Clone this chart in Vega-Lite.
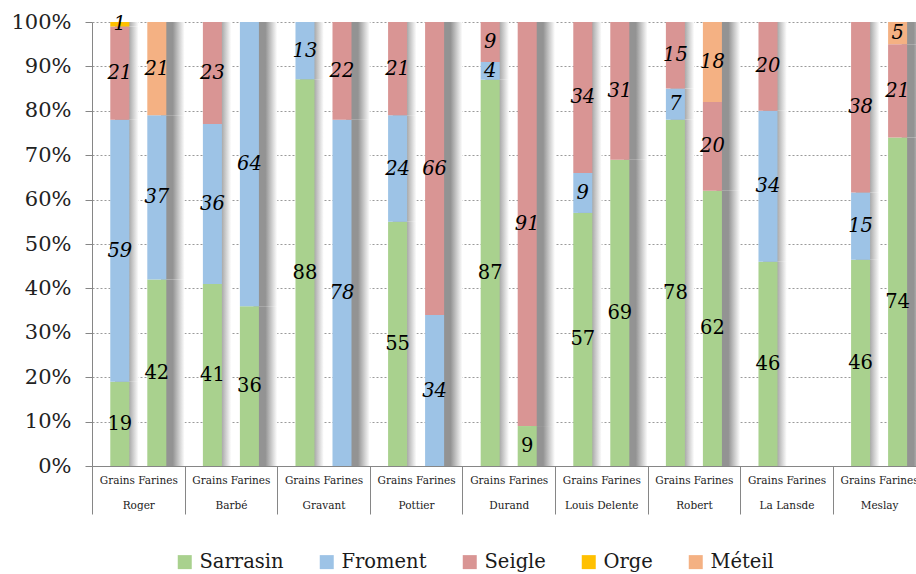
{
  "$schema": "https://vega.github.io/schema/vega-lite/v6.json",
  "width": 824,
  "height": 444,
  "autosize": {"type": "none"},
  "padding": {"left": 92, "top": 22, "right": 0, "bottom": 108},
  "background": "white",
  "config": {
    "view": {"stroke": null},
    "font": "DejaVu Serif",
    "axis": {"labelFont": "DejaVu Serif"},
    "legend": {"labelFont": "DejaVu Serif"},
    "text": {"font": "DejaVu Serif"}
  },
  "datasets": {
    "grains": [
      {"grain": "Sarrasin", "rank": 1},
      {"grain": "Froment", "rank": 2},
      {"grain": "Seigle", "rank": 3},
      {"grain": "Orge", "rank": 4},
      {"grain": "Méteil", "rank": 5}
    ],
    "crops": [
      {"farm": "Roger", "type": "Grains", "grain": "Sarrasin", "value": 19},
      {"farm": "Roger", "type": "Grains", "grain": "Froment", "value": 59},
      {"farm": "Roger", "type": "Grains", "grain": "Seigle", "value": 21},
      {"farm": "Roger", "type": "Grains", "grain": "Orge", "value": 1},
      {"farm": "Roger", "type": "Farines", "grain": "Sarrasin", "value": 42},
      {"farm": "Roger", "type": "Farines", "grain": "Froment", "value": 37},
      {"farm": "Roger", "type": "Farines", "grain": "Méteil", "value": 21},
      {"farm": "Barbé", "type": "Grains", "grain": "Sarrasin", "value": 41},
      {"farm": "Barbé", "type": "Grains", "grain": "Froment", "value": 36},
      {"farm": "Barbé", "type": "Grains", "grain": "Seigle", "value": 23},
      {"farm": "Barbé", "type": "Farines", "grain": "Sarrasin", "value": 36},
      {"farm": "Barbé", "type": "Farines", "grain": "Froment", "value": 64},
      {"farm": "Gravant", "type": "Grains", "grain": "Sarrasin", "value": 88},
      {"farm": "Gravant", "type": "Grains", "grain": "Froment", "value": 13},
      {"farm": "Gravant", "type": "Farines", "grain": "Froment", "value": 78},
      {"farm": "Gravant", "type": "Farines", "grain": "Seigle", "value": 22},
      {"farm": "Pottier", "type": "Grains", "grain": "Sarrasin", "value": 55},
      {"farm": "Pottier", "type": "Grains", "grain": "Froment", "value": 24},
      {"farm": "Pottier", "type": "Grains", "grain": "Seigle", "value": 21},
      {"farm": "Pottier", "type": "Farines", "grain": "Froment", "value": 34},
      {"farm": "Pottier", "type": "Farines", "grain": "Seigle", "value": 66},
      {"farm": "Durand", "type": "Grains", "grain": "Sarrasin", "value": 87},
      {"farm": "Durand", "type": "Grains", "grain": "Froment", "value": 4},
      {"farm": "Durand", "type": "Grains", "grain": "Seigle", "value": 9},
      {"farm": "Durand", "type": "Farines", "grain": "Sarrasin", "value": 9},
      {"farm": "Durand", "type": "Farines", "grain": "Seigle", "value": 91},
      {"farm": "Louis Delente", "type": "Grains", "grain": "Sarrasin", "value": 57},
      {"farm": "Louis Delente", "type": "Grains", "grain": "Froment", "value": 9},
      {"farm": "Louis Delente", "type": "Grains", "grain": "Seigle", "value": 34},
      {"farm": "Louis Delente", "type": "Farines", "grain": "Sarrasin", "value": 69},
      {"farm": "Louis Delente", "type": "Farines", "grain": "Seigle", "value": 31},
      {"farm": "Robert", "type": "Grains", "grain": "Sarrasin", "value": 78},
      {"farm": "Robert", "type": "Grains", "grain": "Froment", "value": 7},
      {"farm": "Robert", "type": "Grains", "grain": "Seigle", "value": 15},
      {"farm": "Robert", "type": "Farines", "grain": "Sarrasin", "value": 62},
      {"farm": "Robert", "type": "Farines", "grain": "Seigle", "value": 20},
      {"farm": "Robert", "type": "Farines", "grain": "Méteil", "value": 18},
      {"farm": "La Lansde", "type": "Grains", "grain": "Sarrasin", "value": 46},
      {"farm": "La Lansde", "type": "Grains", "grain": "Froment", "value": 34},
      {"farm": "La Lansde", "type": "Grains", "grain": "Seigle", "value": 20},
      {"farm": "Meslay", "type": "Grains", "grain": "Sarrasin", "value": 46},
      {"farm": "Meslay", "type": "Grains", "grain": "Froment", "value": 15},
      {"farm": "Meslay", "type": "Grains", "grain": "Seigle", "value": 38},
      {"farm": "Meslay", "type": "Farines", "grain": "Sarrasin", "value": 74},
      {"farm": "Meslay", "type": "Farines", "grain": "Seigle", "value": 21},
      {"farm": "Meslay", "type": "Farines", "grain": "Méteil", "value": 5}
    ]
  },
  "data": {"name": "crops"},
  "transform": [
    {"lookup": "grain", "from": {"data": {"name": "grains"}, "key": "grain", "fields": ["rank"]}}
  ],
  "encoding": {
    "x": {
      "field": "farm",
      "type": "nominal",
      "sort": ["Roger", "Barbé", "Gravant", "Pottier", "Durand", "Louis Delente", "Robert", "La Lansde", "Meslay"],
      "scale": {"range": [0, 833.4], "paddingInner": 0, "paddingOuter": 0},
      "axis": {
        "title": null,
        "tickBand": "extent",
        "tickSize": 48,
        "tickColor": "#868686",
        "domainColor": "#868686",
        "labelExpr": "datum.label ? ['Grains   Farines', datum.label] : ''",
        "labelFontSize": 10.5,
        "labelLineHeight": 25,
        "labelPadding": -38.5,
        "labelBaseline": "top",
        "labelAngle": 0,
        "labelFlush": false,
        "labelOverlap": false,
        "labelBound": false,
        "labelColor": "#222222"
      }
    },
    "y": {
      "field": "value",
      "type": "quantitative",
      "stack": "normalize",
      "scale": {"domain": [0, 1]},
      "axis": {
        "title": null,
        "format": ".0%",
        "values": [0, 0.1, 0.2, 0.3, 0.4, 0.5, 0.6, 0.7, 0.8, 0.9, 1],
        "labelFontSize": 21,
        "labelPadding": 14,
        "labelColor": "#222222",
        "tickSize": 7,
        "tickColor": "#868686",
        "domainColor": "#868686",
        "gridColor": "#9a9a9a",
        "gridDash": [2, 2]
      }
    },
    "order": {"field": "rank", "type": "quantitative"}
  },
  "layer": [
    {
      "mark": {
        "type": "bar",
        "fill": {
          "gradient": "linear",
          "x1": 0, "x2": 1, "y1": 0, "y2": 0,
          "stops": [
            {"offset": 0, "color": "#939393"},
            {"offset": 0.5, "color": "#939393"},
            {"offset": 1, "color": "#ffffff"}
          ]
        }
      },
      "encoding": {
        "xOffset": {
          "field": "type",
          "type": "nominal",
          "sort": ["Grains", "Farines"],
          "scale": {"paddingInner": 0.486, "paddingOuter": 0.25, "align": 1}
        }
      }
    },
    {
      "encoding": {
        "xOffset": {
          "field": "type",
          "type": "nominal",
          "sort": ["Grains", "Farines"],
          "scale": {"paddingInner": 0.486, "paddingOuter": 0.494}
        }
      },
      "layer": [
        {
          "mark": {"type": "bar"},
          "encoding": {
            "color": {
              "field": "grain",
              "type": "nominal",
              "scale": {
                "domain": ["Sarrasin", "Froment", "Seigle", "Orge", "Méteil"],
                "range": ["#A9D18E", "#9DC3E6", "#D99594", "#FFC000", "#F4B183"]
              },
              "legend": {
                "title": null,
                "orient": "none",
                "legendX": 83,
                "legendY": 530,
                "direction": "horizontal",
                "symbolType": "square",
                "symbolSize": 196,
                "symbolStrokeWidth": 0,
                "labelFontSize": 19.5,
                "labelColor": "#1a1a1a",
                "labelOffset": 5,
                "columnPadding": 33,
                "padding": 0
              }
            }
          }
        },
        {
          "mark": {"type": "text", "fontSize": 19.5, "color": "#000000"},
          "encoding": {
            "y": {"field": "value", "type": "quantitative", "stack": "normalize", "bandPosition": 0.5},
            "text": {"condition": {"test": "datum.grain === 'Sarrasin'", "field": "value"}, "value": ""}
          }
        },
        {
          "mark": {"type": "text", "fontSize": 19.5, "fontStyle": "italic", "color": "#000000"},
          "encoding": {
            "y": {"field": "value", "type": "quantitative", "stack": "normalize", "bandPosition": 0.5},
            "text": {"condition": {"test": "datum.grain !== 'Sarrasin'", "field": "value"}, "value": ""}
          }
        }
      ]
    }
  ],
  "resolve": {"scale": {"xOffset": "independent"}}
}
